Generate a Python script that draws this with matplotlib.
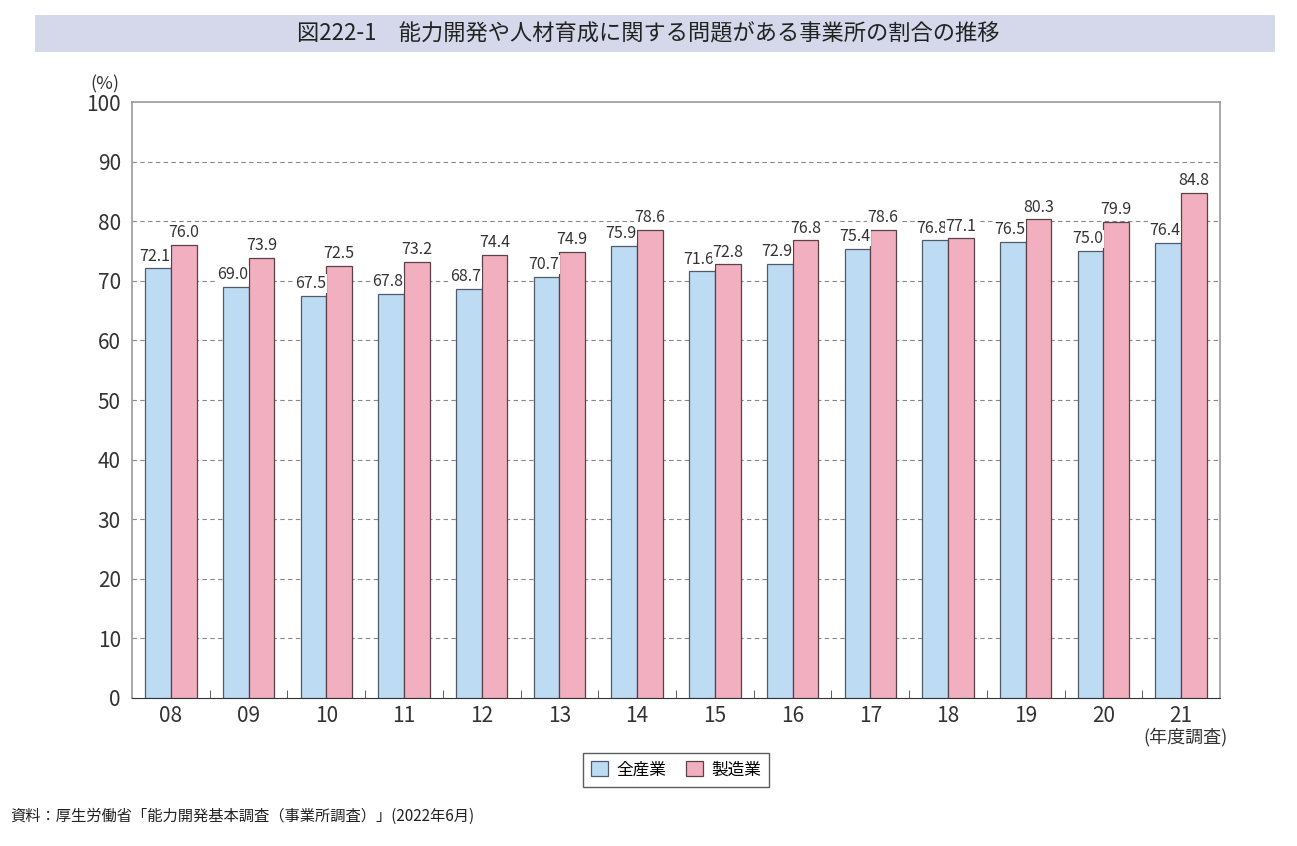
import matplotlib.pyplot as plt
import numpy as np

plt.rcParams['font.family'] = ['Noto Sans CJK JP', 'DejaVu Sans']

years = ['08', '09', '10', '11', '12', '13', '14', '15', '16', '17', '18', '19', '20', '21']
all_ind = [72.1, 69.0, 67.5, 67.8, 68.7, 70.7, 75.9, 71.6, 72.9, 75.4, 76.8, 76.5, 75.0, 76.4]
manuf = [76.0, 73.9, 72.5, 73.2, 74.4, 74.9, 78.6, 72.8, 76.8, 78.6, 77.1, 80.3, 79.9, 84.8]

fig = plt.figure(figsize=(12.97, 8.46), dpi=100)
ax = fig.add_axes([132 / 1297, 1 - 698 / 846, 1088 / 1297, 596 / 846])

x = np.arange(len(years))
w = 0.33
b1 = ax.bar(x - w / 2, all_ind, w, color='#bddcf3', edgecolor='#4f5b68', linewidth=0.9, zorder=3, label='全産業')
b2 = ax.bar(x + w / 2, manuf, w, color='#f2afc0', edgecolor='#5a4048', linewidth=0.9, zorder=3, label='製造業')

for xi, v in zip(x, all_ind):
    ax.text(xi - w / 2 - 0.04, v + 0.6, f'{v:.1f}', ha='center', va='bottom', fontsize=11.5,
            color='#333333', zorder=4, bbox=dict(facecolor='white', edgecolor='none', pad=0.5))
for xi, v in zip(x, manuf):
    ax.text(xi + w / 2, v + 0.6, f'{v:.1f}', ha='center', va='bottom', fontsize=11.5,
            color='#333333', zorder=4, bbox=dict(facecolor='white', edgecolor='none', pad=0.5))

ax.set_xlim(-0.5, len(years) - 0.5)
ax.set_ylim(0, 100)
ax.set_yticks(range(0, 101, 10))
ax.set_yticklabels([str(v) for v in range(0, 101, 10)], fontsize=15, color='#333333')
for y in range(10, 100, 10):
    ax.axhline(y, color='#888888', linestyle=(0, (4, 3)), linewidth=0.8, zorder=1)
ax.set_xticks(x)
ax.set_xticklabels(years, fontsize=15, color='#333333')
ax.tick_params(axis='x', length=0, pad=5)
ax.tick_params(axis='y', length=0, pad=8)
ax.set_xticks(np.arange(0.5, len(years) - 1, 1), minor=True)
ax.tick_params(axis='x', which='minor', direction='in', length=6, color='#444444')

for s in ['top', 'right', 'left']:
    ax.spines[s].set_color('#999999')
    ax.spines[s].set_linewidth(1.2)
ax.spines['bottom'].set_color('#333333')

ax.text(-0.038, 1.015, '(%)', transform=ax.transAxes, ha='left', va='bottom', fontsize=13, color='#333333')
ax.text(13.05, -5.0, '(年度調査)', ha='center', va='top', fontsize=13, color='#333333')

# title band
fig.patches.append(plt.Rectangle((35 / 1297, 1 - 52 / 846), 1240 / 1297, 37 / 846,
                                 transform=fig.transFigure, facecolor='#d5d8ea', edgecolor='none'))
fig.text(0.5, 1 - 34 / 846, '図222-1　能力開発や人材育成に関する問題がある事業所の割合の推移',
         ha='center', va='center', fontsize=16, color='#222222')

fig.legend(handles=[b1, b2], loc='center', bbox_to_anchor=(676 / 1297, 1 - 770 / 846), ncol=2,
           fontsize=12, frameon=True, edgecolor='#333333', fancybox=False, handlelength=1,
           handleheight=1, columnspacing=1.2, handletextpad=0.5, borderpad=0.5)

fig.text(10 / 1297, 1 - 816 / 846, '資料：厚生労働省「能力開発基本調査（事業所調査）」(2022年6月)',
         ha='left', va='center', fontsize=11, color='#222222')

fig.savefig('out.png', dpi=100)
